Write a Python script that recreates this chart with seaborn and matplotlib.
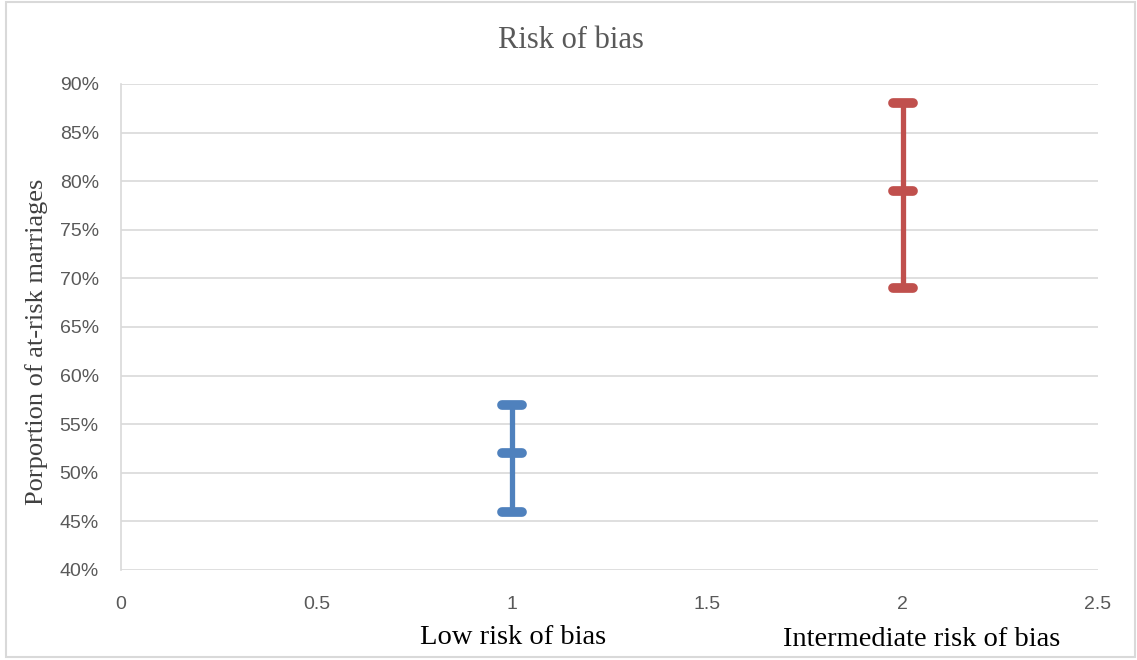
import pandas as pd
import matplotlib.pyplot as plt
from matplotlib.markers import MarkerStyle
from matplotlib.patches import Rectangle
import seaborn as sns

# --- data ---
groups = ['Low risk of bias', 'Intermediate risk of bias']
group_x = [1, 2]
low_vals = [0.46, 0.52, 0.57]
inter_vals = [0.69, 0.79, 0.88]
colors = ['#4F81BD', '#C0504D']

yticks = [0.40, 0.45, 0.50, 0.55, 0.60, 0.65, 0.70, 0.75, 0.80, 0.85, 0.90]
xticks = [0, 0.5, 1, 1.5, 2, 2.5]
xtick_labels = ['0', '0.5', '1', '1.5', '2', '2.5']

rows = []
for g, x, vals in zip(groups, group_x, [low_vals, inter_vals]):
    for v in vals:
        rows.append({'group': g, 'x': x, 'value': v})
df = pd.DataFrame(rows)

sns.set_style('white')
plt.rcParams['font.family'] = ['Liberation Sans', 'DejaVu Sans']

fig = plt.figure(figsize=(11.37, 6.6), dpi=100)
ax = fig.add_axes([121 / 1137, 1 - 570 / 660, 977 / 1137, 486 / 660])

cap = MarkerStyle('_', capstyle='round')
sns.lineplot(data=df, x='x', y='value', hue='group', palette=colors,
             estimator=None, orient='y', sort=True, legend=False,
             linewidth=3.8, marker=cap, markersize=14, markeredgewidth=7,
             ax=ax, zorder=3)
for line, c in zip(ax.get_lines(), colors):
    line.set_markeredgecolor(c)
    line.set_solid_capstyle('butt')

ax.set_xlim(0, 2.5)
ax.set_ylim(0.40, 0.90)
ax.set_xticks(xticks)
ax.set_xticklabels(xtick_labels)
ax.set_yticks(yticks)
ax.set_yticklabels([f'{int(round(t * 100))}%' for t in yticks])
ax.grid(axis='y', color='#D9D9D9', linewidth=1.2)
ax.grid(axis='x', visible=False)
ax.set_axisbelow(True)
for s in ['top', 'right', 'bottom']:
    ax.spines[s].set_visible(False)
ax.spines['left'].set_color('#D9D9D9')
ax.spines['left'].set_linewidth(1.2)
ax.tick_params(axis='both', length=0, labelsize=14, colors='#595959')
ax.tick_params(axis='x', pad=19)
ax.tick_params(axis='y', pad=16)
ax.set_xlabel('')
ax.set_ylabel('')

serif = ['Liberation Serif', 'DejaVu Serif']
fig.text(571 / 1137, 1 - 40 / 660, 'Risk of bias', ha='center', va='center',
         fontsize=22, color='#595959', family=serif)
fig.text(37 / 1137, 1 - 342 / 660, 'Porportion of at-risk marriages',
         rotation=90, ha='center', va='center', fontsize=19,
         color='#404040', family=serif)
fig.text(513 / 1137, 1 - 638 / 660, groups[0], ha='center', va='center',
         fontsize=20.5, color='black', family=serif)
fig.text(922 / 1137, 1 - 640 / 660, groups[1], ha='center', va='center',
         fontsize=20.5, color='black', family=serif)

fig.patches.append(Rectangle((6 / 1137, 3 / 660), 1129 / 1137, 655 / 660,
                             transform=fig.transFigure, fill=False,
                             edgecolor='#D9D9D9', linewidth=1.5))

fig.savefig('out.png', dpi=100)
